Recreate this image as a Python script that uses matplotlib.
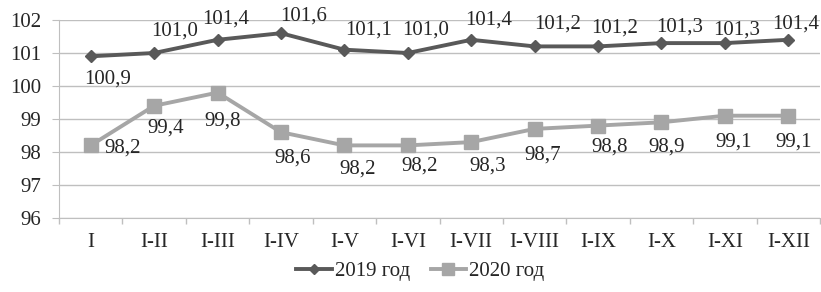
import matplotlib
matplotlib.use('Agg')
import matplotlib.pyplot as plt
import numpy as np

# data
months = ["I", "I-II", "I-III", "I-IV", "I-V", "I-VI", "I-VII", "I-VIII",
          "I-IX", "I-X", "I-XI", "I-XII"]
y2019 = [100.9, 101.0, 101.4, 101.6, 101.1, 101.0, 101.4, 101.2,
         101.2, 101.3, 101.3, 101.4]
y2020 = [98.2, 99.4, 99.8, 98.6, 98.2, 98.2, 98.3, 98.7,
         98.8, 98.9, 99.1, 99.1]

# label offsets from the point, in pixels (dx, dy up)
off2019 = [(17, -23), (20, 22), (8, 21), (23, 17), (24, 20), (18, 23),
           (17, 20), (23, 22), (17, 18), (18, 16), (12, 13), (7, 16)]
off2020 = [(32, -3), (12, -22), (5, -28), (12, -26), (13, -24), (12, -21),
           (16, -24), (8, -26), (12, -21), (5, -25), (9, -26), (5, -26)]

plt.rcParams['font.family'] = ['Liberation Serif', 'DejaVu Serif']
dark = '#595959'
light = '#a6a6a6'
grid = '#bfbfbf'
txt = '#262626'

fig = plt.figure(figsize=(8.21, 2.92), dpi=100)
ax = fig.add_axes([59/821, 1 - 218/292, (820-59)/821, (218-20)/292])

x = np.arange(len(months))
ax.plot(x, y2019, color=dark, lw=2.8, marker='D', ms=6.3, label='2019 год', zorder=4)
ax.plot(x, y2020, color=light, lw=2.8, marker='s', ms=10.5, label='2020 год', zorder=3)

def fmt(v):
    return f"{v:.1f}".replace('.', ',')

fs = 15
px = 72 / 100
for i, v in enumerate(y2019):
    dx, dy = off2019[i]
    ax.annotate(fmt(v), (i, v), xytext=(dx*px, dy*px), textcoords='offset points',
                ha='center', va='center', fontsize=fs, color=txt)
for i, v in enumerate(y2020):
    dx, dy = off2020[i]
    ax.annotate(fmt(v), (i, v), xytext=(dx*px, dy*px), textcoords='offset points',
                ha='center', va='center', fontsize=fs, color=txt)

ax.set_xlim(-0.5, len(months) - 0.5)
ax.set_ylim(96, 102)
ax.set_yticks(range(96, 103))
ax.set_xticks(x)
ax.set_xticklabels(months)
ax.set_xticks(np.arange(-0.5, len(months)), minor=True)
ax.tick_params(axis='x', which='major', length=0, pad=11, labelsize=fs, labelcolor=txt)
ax.tick_params(axis='x', which='minor', length=4, color=grid, width=1)
ax.tick_params(axis='y', length=5, color=grid, labelsize=fs, pad=8, labelcolor=txt)
ax.grid(axis='y', color=grid, lw=1)
ax.set_axisbelow(True)
for s in ['top', 'right']:
    ax.spines[s].set_visible(False)
ax.spines['left'].set_color(grid)
ax.spines['bottom'].set_color(grid)

leg = fig.legend(loc='center', bbox_to_anchor=(0.512, 1 - 271/292), ncol=2, frameon=False,
                 fontsize=fs, handlelength=1.7, columnspacing=1.0, handletextpad=0.15,
                 markerscale=0.8)
for t in leg.get_texts():
    t.set_color(txt)

plt.savefig('out.png', dpi=100)
